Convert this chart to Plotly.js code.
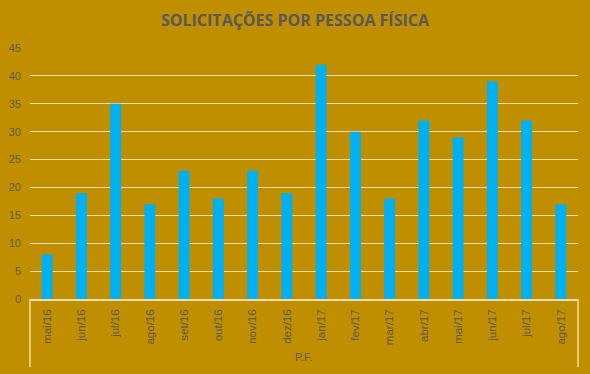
<!DOCTYPE html>
<html>
<head>
<meta charset="utf-8">
<script src="https://cdn.plot.ly/plotly-3.0.1.min.js"></script>
<style>html,body{margin:0;padding:0;background:#BF8F00;}#chart{width:590px;height:374px;}</style>
</head>
<body>
<div id="chart"></div>
<script>
const months = ["mai/16","jun/16","jul/16","ago/16","set/16","out/16","nov/16","dez/16","jan/17","fev/17","mar/17","abr/17","mai/17","jun/17","jul/17","ago/17"];
const values = [8, 19, 35, 17, 23, 18, 23, 19, 42, 30, 18, 32, 29, 39, 32, 17];
const groupLabel = "P.F.";
const chartTitle = "SOLICITAÇÕES POR PESSOA FÍSICA";

const gold = "#BF8F00";
const textCol = "#5f5a4a";
const gridCol = "#F0DDA8";

Plotly.newPlot("chart", [{
  type: "bar",
  x: months,
  y: values,
  marker: {color: "#00B0F0"},
  width: 0.32,
  hoverinfo: "x+y"
}], {
  width: 590, height: 374,
  paper_bgcolor: gold, plot_bgcolor: gold,
  margin: {l: 30, r: 12, t: 48, b: 75},
  showlegend: false,
  title: {text: "<b>" + chartTitle + "</b>", x: 0.5, xanchor: "center", y: 0.945, yanchor: "middle",
          font: {family: "Open Sans, Liberation Sans, sans-serif", size: 16, color: "#595959"}},
  xaxis: {
    type: "category", tickangle: -90, showgrid: false,
    showline: true, linecolor: gridCol, linewidth: 1.5,
    ticks: "", ticklen: 0, ticklabelstandoff: 4,
    tickfont: {family: "Liberation Sans, Arial, sans-serif", size: 11.5, color: textCol}
  },
  yaxis: {
    range: [0, 45], dtick: 5, showgrid: true, gridcolor: gridCol, gridwidth: 1.3,
    zeroline: false, showline: false, ticks: "", ticklen: 0, ticklabelstandoff: 8,
    tickfont: {family: "Liberation Sans, Arial, sans-serif", size: 11, color: textCol}
  },
  shapes: [
    {type: "line", xref: "paper", yref: "paper", x0: 0, x1: 0, y0: 0, y1: -0.272, line: {color: gridCol, width: 1.5}},
    {type: "line", xref: "paper", yref: "paper", x0: 1, x1: 1, y0: 0, y1: -0.272, line: {color: gridCol, width: 1.5}}
  ],
  annotations: [{
    text: groupLabel, xref: "paper", yref: "paper", x: 0.5, y: -0.23, xanchor: "center", yanchor: "middle",
    showarrow: false, font: {family: "Liberation Sans, Arial, sans-serif", size: 11, color: textCol}
  }]
}, {displayModeBar: false});
</script>
</body>
</html>
